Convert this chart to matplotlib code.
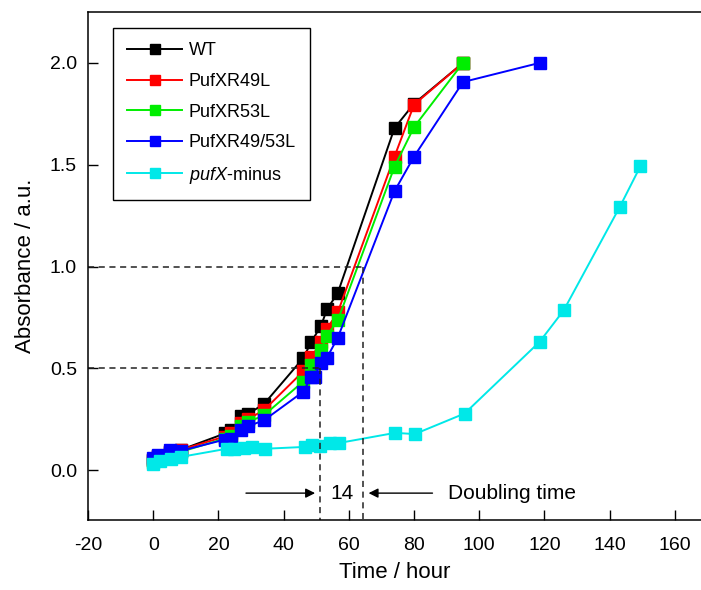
import matplotlib
matplotlib.use("Agg")
import matplotlib.pyplot as plt

plt.rcParams['font.family'] = ['Liberation Sans', 'DejaVu Sans']
plt.rcParams['mathtext.fontset'] = 'custom'
plt.rcParams['mathtext.rm'] = 'Liberation Sans'
plt.rcParams['mathtext.it'] = 'Liberation Sans:italic'
plt.rcParams['axes.unicode_minus'] = False

# growth curves (time in hours, absorbance in a.u.)
t_main = [0, 1.5, 5, 8.5, 22, 24, 27, 29, 34, 46, 48.5, 51.5, 53.3, 56.6, 74, 80, 95]
wt = [0.05, 0.07, 0.09, 0.10, 0.18, 0.195, 0.265, 0.275, 0.325, 0.55, 0.63, 0.71, 0.79, 0.87, 1.68, 1.80, 2.0]
r49 = [0.05, 0.07, 0.09, 0.10, 0.165, 0.18, 0.23, 0.25, 0.295, 0.485, 0.555, 0.63, 0.695, 0.775, 1.54, 1.795, 2.0]
r53 = [0.04, 0.06, 0.08, 0.09, 0.155, 0.17, 0.215, 0.235, 0.27, 0.435, 0.515, 0.59, 0.66, 0.735, 1.49, 1.685, 2.0]

t_dbl = [0, 1.5, 5, 8.5, 22, 24, 27, 29, 34, 46, 48.5, 49.5, 51.5, 53.3, 56.6, 74, 80, 95, 118.5]
r4953 = [0.06, 0.075, 0.10, 0.095, 0.15, 0.155, 0.195, 0.215, 0.245, 0.385, 0.458, 0.458, 0.527, 0.553, 0.65, 1.37, 1.54, 1.906, 2.0]

t_minus = [0, 2, 5.5, 8.5, 22.6, 24.7, 27.7, 30.3, 34.4, 46.6, 48.7, 51.3, 54.3, 56.9, 74.2, 80.2, 95.5, 118.5, 125.9, 143.1, 149.4]
minus = [0.03, 0.045, 0.055, 0.065, 0.105, 0.105, 0.108, 0.113, 0.105, 0.114, 0.122, 0.12, 0.134, 0.133, 0.183, 0.177, 0.278, 0.63, 0.785, 1.293, 1.492]

x_ticks = [-20, 0, 20, 40, 60, 80, 100, 120, 140, 160]
y_ticks = [0.0, 0.5, 1.0, 1.5, 2.0]

# doubling time markers
t_half, t_full = 51.3, 64.4

W, H = 701, 590
fig = plt.figure(figsize=(W / 100, H / 100), dpi=100)
ax = fig.add_axes([88 / W, 1 - 520 / H, (W - 88) / W, (520 - 12) / H])

series = [
    (t_main, wt, 'black', 'WT'),
    (t_main, r49, '#ff0000', 'PufXR49L'),
    (t_main, r53, '#00ee00', 'PufXR53L'),
    (t_dbl, r4953, '#0000ff', 'PufXR49/53L'),
    (t_minus, minus, '#00e8e8', r'$\it{pufX}$-minus'),
]
for t, a, c, lab in series:
    ax.plot(t, a, color=c, lw=1.4, marker='s', ms=8, mec=c, mfc=c, label=lab)

ax.set_xlim(-20, 168)
ax.set_ylim(-0.245, 2.25)
ax.set_xticks(x_ticks)
ax.set_yticks(y_ticks)
ax.set_yticklabels([f'{v:.1f}' for v in y_ticks])
ax.tick_params(direction='in', length=7, width=1, labelsize=14, pad=8)
ax.tick_params(axis='x', pad=12)
ax.spines['right'].set_visible(False)
for s in ['left', 'top', 'bottom']:
    ax.spines[s].set_linewidth(1.1)

# dashed guide lines
dash = dict(color='#222222', lw=1.1, ls=(0, (4, 3)))
ax.plot([-20, t_full], [1.0, 1.0], **dash)
ax.plot([t_full, t_full], [1.0, -0.245], **dash)
ax.plot([-20, t_half], [0.5, 0.5], **dash)
ax.plot([t_half, t_half], [0.5, -0.245], **dash)

ax.annotate('', xy=(t_half - 0.8, -0.113), xytext=(27.6, -0.113),
            arrowprops=dict(arrowstyle='-|>', color='black', lw=1, mutation_scale=14))
ax.annotate('', xy=(t_full + 0.8, -0.113), xytext=(86.5, -0.113),
            arrowprops=dict(arrowstyle='-|>', color='black', lw=1, mutation_scale=14))
ax.text((t_half + t_full) / 2, -0.113, '14', fontsize=15, ha='center', va='center')
ax.text(90.5, -0.113, 'Doubling time', fontsize=15, ha='left', va='center')

ax.set_xlabel('Time / hour', fontsize=16, labelpad=6)
ax.set_ylabel('Absorbance / a.u.', fontsize=16, labelpad=10)

leg = ax.legend(loc='upper left', bbox_to_anchor=(113 / W, 1 - 28 / H),
                bbox_transform=fig.transFigure, borderaxespad=0, fontsize=13,
                fancybox=False, edgecolor='black', framealpha=1,
                markerscale=0.9, handlelength=3.0, labelspacing=0.75,
                borderpad=0.8, handletextpad=0.4)
leg.get_frame().set_linewidth(1)

fig.savefig('out.png', dpi=100)
